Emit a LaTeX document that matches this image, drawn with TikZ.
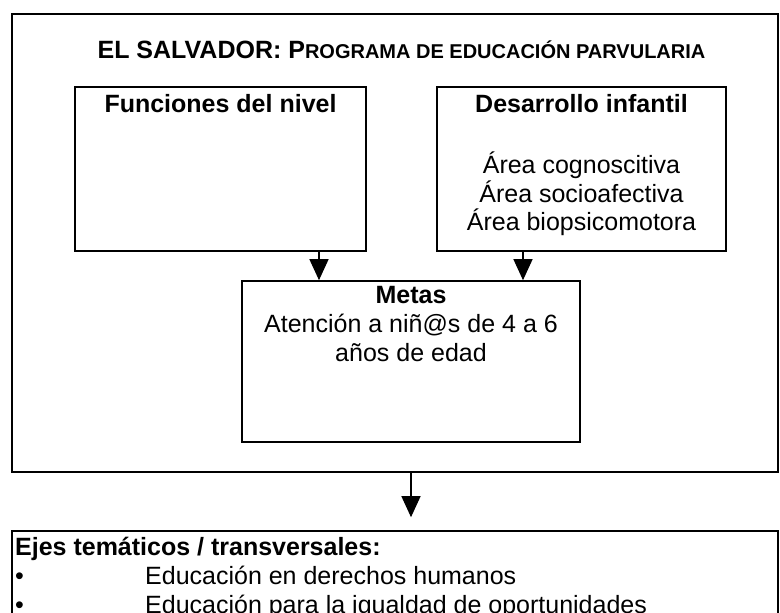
\documentclass[tikz,border=0pt]{standalone}
\usepackage{fontspec}
\setmainfont{Liberation Sans}
\usetikzlibrary{arrows.meta, positioning}

\begin{document}
\begin{tikzpicture}[x=1pt, y=-1pt,
	box/.style={draw, line width=1.6pt, inner sep=0pt},
	txt/.style={inner sep=0pt, align=center, font=\fontsize{25}{28.75}\selectfont},
	head/.style={txt, font=\fontsize{25}{28.75}\selectfont\bfseries},
	arr/.style={line width=1.2pt, -{Triangle[width=19pt, length=21pt]}}]
\useasboundingbox (0,0) rectangle (780,613);
\clip (0,0) rectangle (780,613);

% outer frame and the four boxes
\node[box, minimum width=766pt, minimum height=458pt] (outer) at (395,243) {};
\node[box, minimum width=291pt, minimum height=164pt] (func) at (220.5,169) {};
\node[box, minimum width=289pt, minimum height=164pt] (desa) at (581.5,169) {};
\node[box, minimum width=338pt, minimum height=161pt] (metas) at (411,361.5) {};
\node[box, minimum width=766pt, minimum height=119pt] (ejes) at (395,590.5) {};

% texts
\node[head] (title) at (401.5,50) {EL SALVADOR: P{\fontsize{20}{20}\selectfont ROGRAMA DE EDUCACIÓN PARVULARIA}};
\node[head] (funcT) at (220.5,103.5) {Funciones del nivel};
\node[head] (desaT) at (581.5,104) {Desarrollo infantil};
\node[txt] (desaL) at (581.5,194) {Área cognoscitiva\\Área socioafectiva\\Área biopsicomotora};
\node[head] (metasT) at (411,295.5) {Metas};
\node[txt] (metasL) at (411,338) {Atención a niñ@s de 4 a 6\\años de edad};
\node[head, anchor=base west] (ejesT) at (15,555) {Ejes temáticos / transversales:};
\node[txt, anchor=base] (b1) at (19.5,584) {•};
\node[txt, anchor=base west] (e1) at (145,584) {Educación en derechos humanos};
\node[txt, anchor=base] (b2) at (19.5,613) {•};
\node[txt, anchor=base west] (e2) at (145,613) {Educación para la igualdad de oportunidades};

% arrows
\coordinate (a1) at (319,0);
\coordinate (a2) at (523,0);
\draw[arr] (a1 |- func.south) -- (a1 |- metas.north);
\draw[arr] (a2 |- desa.south) -- (a2 |- metas.north);
\draw[arr, shorten >=13pt] (outer.south -| metas) -- (ejes.north -| metas);

\end{tikzpicture}
\end{document}
